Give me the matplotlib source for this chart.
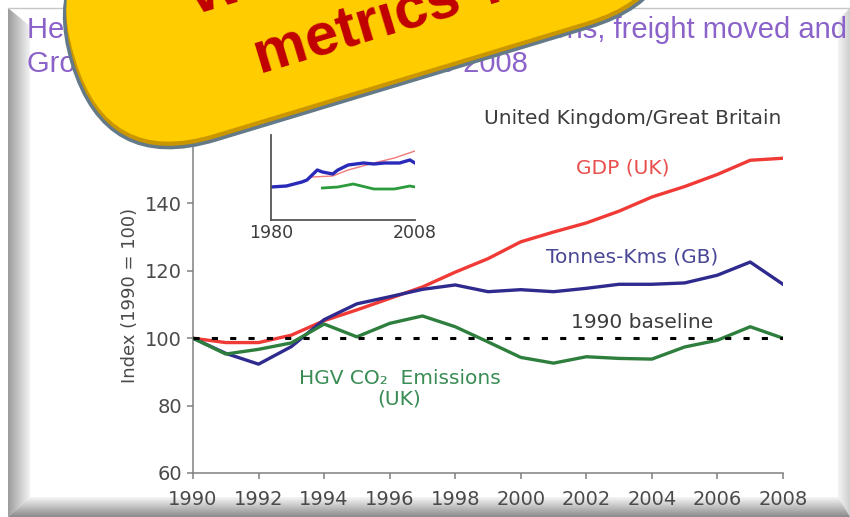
import numpy as np
import matplotlib
matplotlib.use("Agg")
import matplotlib.pyplot as plt
from matplotlib.patches import FancyBboxPatch, Polygon
from matplotlib.transforms import Affine2D

# main chart data (index, 1990 = 100)
years = list(range(1990, 2009))
gdp = [100, 98.7, 98.7, 100.9, 105.2, 108.4, 111.8, 115.2, 119.6, 123.6, 128.6, 131.5, 134.2, 137.7,
       141.9, 145.0, 148.6, 152.8, 153.4]
tkm = [100, 95.5, 92.3, 97.5, 105.5, 110.2, 112.3, 114.5, 115.8, 113.8, 114.4, 113.8, 114.8, 116.0,
       116.0, 116.4, 118.7, 122.6, 116.0]
hgv = [100, 95.3, 96.7, 98.6, 104.2, 100.4, 104.4, 106.6, 103.4, 98.9, 94.3, 92.6, 94.5, 94.0,
       93.8, 97.4, 99.4, 103.4, 100.0]
xticks = list(range(1990, 2009, 2))
yticks = [60, 80, 100, 120, 140]

# small inset 1980-2008 (arbitrary units)
in_tkm_years = [1980, 1983, 1986, 1987, 1989, 1990, 1992, 1993, 1995, 1998, 2000, 2002, 2005, 2007, 2008]
in_tkm = [33, 34, 38, 40, 50, 48, 46, 50, 55, 57, 56, 57, 57, 60, 57]
in_gdp_years = [1988, 1992, 1995, 2000, 2004, 2008]
in_gdp = [43, 44, 50, 57, 62, 69]
in_hgv_years = [1990, 1993, 1996, 2000, 2004, 2007, 2008]
in_hgv = [32, 33, 36, 31, 31, 34, 33]

title1_left, title1_right = "Heavy goods vehicle CO2", "emissions, freight moved and"
title2_left, title2_right = "Gross Domestic Product,", "1990 to 2008"
bubble_lines = ["What are the", "metrics ?"]

W, H = 850, 517
fig = plt.figure(figsize=(8.5, 5.17), dpi=100)
fig.patch.set_facecolor("white")

# ---- slide background / bevel frame (pixel coords, y down)
bg = fig.add_axes([0, 0, 1, 1], zorder=0)
bg.set_xlim(0, W)
bg.set_ylim(H, 0)
bg.axis("off")


def bevel(ax, pts, c0, c1, horizontal):
    poly = Polygon(pts, closed=True, facecolor="none", edgecolor="none")
    ax.add_patch(poly)
    xs = [p[0] for p in pts]
    ys = [p[1] for p in pts]
    g = np.linspace(0, 1, 64)
    cmap = matplotlib.colors.LinearSegmentedColormap.from_list("b", [c0, c1])
    img = g[None, :] if horizontal else g[:, None]
    im = ax.imshow(img, cmap=cmap, extent=(min(xs), max(xs), max(ys), min(ys)),
                   aspect="auto", interpolation="bilinear")
    im.set_clip_path(poly)


bevel(bg, [(8, 8), (30, 26), (30, 497), (8, 517)], "#9c9c9c", "#f3f3f3", True)
bevel(bg, [(8, 517), (30, 497), (850, 497), (850, 517)], "#f6f6f6", "#8a8a8a", False)
bevel(bg, [(838, 20), (850, 8), (850, 517), (838, 497)], "#f4f4f4", "#cfcfcf", True)
bg.plot([8, 850], [8, 8], color="#c6c6c6", lw=1)

# title (mostly hidden by the bubble)
tkw = dict(fontsize=21, color="#8b62c9", family="Liberation Sans", va="baseline")
bg.text(27, 38, title1_left, ha="left", **tkw)
bg.text(847, 38, title1_right, ha="right", **tkw)
bg.text(27, 72, title2_left, ha="left", **tkw)
bg.text(528, 72, title2_right, ha="right", **tkw)

# ---- main chart
ax = fig.add_axes([193 / W, 1 - 473 / H, 590 / W, 337 / H], zorder=1)
ax.set_facecolor("none")
ax.plot(years, gdp, color="#f03a35", lw=2.4, zorder=3)
ax.plot(years, tkm, color="#2f2a8e", lw=2.4, zorder=3)
ax.plot(years, hgv, color="#2e7f3e", lw=2.4, zorder=3)
ax.plot([years[0], years[-1]], [100, 100], color="black", lw=2.2, linestyle=(0, (2, 4)), zorder=4)
ax.set_xlim(1990, 2008)
ax.set_ylim(60, 160)
ax.set_xticks(xticks)
ax.set_yticks(yticks)
for s in ["top", "right"]:
    ax.spines[s].set_visible(False)
for s in ["left", "bottom"]:
    ax.spines[s].set_color("#808080")
    ax.spines[s].set_linewidth(1.1)
ax.tick_params(axis="both", colors="#808080", length=4, width=1.1, labelsize=14, labelcolor="#4a4a4a")
ax.tick_params(axis="x", pad=8)
ax.tick_params(axis="y", pad=4)
for lab in ax.get_xticklabels() + ax.get_yticklabels():
    lab.set_clip_on(False)

fig.text(130 / W, 1 - 295 / H, "Index (1990 = 100)", rotation=90, ha="center", va="center",
         fontsize=13, color="#4a4a4a")

lk = dict(ha="center", va="center", fontsize=14.5, clip_on=False)
ax.text(2003.4, 165.3, "United Kingdom/Great Britain", color="#3c3c3c", **lk)
ax.text(2003.1, 150.4, "GDP (UK)", color="#e8504e", **lk)
ax.text(2003.4, 124.0, "Tonnes-Kms (GB)", color="#4a4896", **lk)
ax.text(2003.7, 104.8, "1990 baseline", color="#3c3c3c", **lk)
ax.text(1996.3, 85.0, "HGV CO\u2082  Emissions\n(UK)", color="#3a8c55", linespacing=1.1, **lk)

# ---- inset 1980-2008
ins = fig.add_axes([271 / W, 1 - 220 / H, 144 / W, 85 / H], zorder=2)
ins.set_facecolor("none")
ins.plot(in_gdp_years, in_gdp, color="#f07a78", lw=1.0)
ins.plot(in_hgv_years, in_hgv, color="#2a9a3a", lw=2.0)
ins.plot(in_tkm_years, in_tkm, color="#2a2ab8", lw=2.4)
ins.set_xlim(1980, 2008)
ins.set_ylim(0, 85)
ins.set_xticks([])
ins.set_yticks([])
for s in ["top", "right"]:
    ins.spines[s].set_visible(False)
for s in ["left", "bottom"]:
    ins.spines[s].set_color("#555555")
    ins.spines[s].set_linewidth(1.3)
ins.text(1980, -13, "1980", ha="center", va="center", fontsize=12.5, color="#3c3c3c", clip_on=False)
ins.text(2008, -13, "2008", ha="center", va="center", fontsize=12.5, color="#3c3c3c", clip_on=False)

# ---- yellow callout bubble on top
fg = fig.add_axes([0, 0, 1, 1], zorder=10)
fg.set_xlim(0, W)
fg.set_ylim(H, 0)
fg.axis("off")
fg.patch.set_alpha(0)

rot = Affine2D().rotate_deg(-16.8).translate(369, -26.5) + fg.transData
outer = FancyBboxPatch((-310, -115), 620, 230, boxstyle="round,pad=0,rounding_size=115",
                       facecolor="#c99600", edgecolor="#647a88", lw=2.5, transform=rot)
inner = FancyBboxPatch((-306, -119), 612, 228, boxstyle="round,pad=0,rounding_size=111",
                       facecolor="#ffcc00", edgecolor="none", transform=rot)
fg.add_patch(outer)
fg.add_patch(inner)

bk = dict(ha="center", va="baseline", fontsize=43, fontweight="bold", color="#c00000",
          family="Liberation Sans", rotation=16.8, rotation_mode="anchor", transform=rot)
fg.text(0, -11, bubble_lines[0], **bk)
fg.text(0, 64, bubble_lines[1], **bk)

fig.savefig("out.png", dpi=100)
